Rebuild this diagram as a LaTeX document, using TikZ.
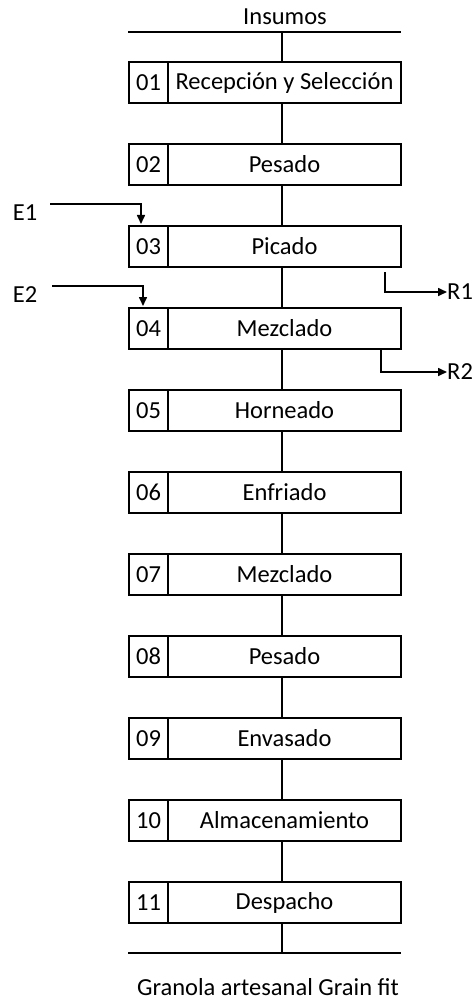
\documentclass[tikz,border=0pt]{standalone}
\usepackage{fontspec}
\setmainfont{Carlito}
\usetikzlibrary{arrows.meta,calc}
\begin{document}
\begin{tikzpicture}[x=1pt,y=-1pt,
  txt/.style={font=\fontsize{24.5}{28}\selectfont, text=black, inner sep=0pt},
  maincell/.style={draw, line width=1.6pt, minimum width=233pt, minimum height=41pt, inner sep=0pt, font=\fontsize{24.5}{28}\selectfont},
  numcell/.style={draw, line width=1.6pt, minimum width=39pt, minimum height=41pt, inner sep=0pt, font=\fontsize{24.5}{28}\selectfont},
  conn/.style={line width=1.6pt},
  arr/.style={line width=1.6pt, -{Triangle[length=9pt,width=8pt]}}]
\useasboundingbox (0,0) rectangle (473,1000);
\fill[white] (0,0) rectangle (473,1000);
\node[txt] (ins) at (285,17) {Insumos};
\coordinate (tl) at (128,32);
\coordinate (tr) at (401,32);
\draw[conn] (tl) -- (tr);
\foreach \i/\lab in {1/Recepción y Selección,2/Pesado,3/Picado,4/Mezclado,5/Horneado,6/Enfriado,7/Mezclado,8/Pesado,9/Envasado,10/Almacenamiento,11/Despacho}{
  \pgfmathsetmacro{\yy}{82.5+(\i-1)*82}
  \node[maincell] (m\i) at (284.5,\yy) {\lab};
  \node[numcell] (n\i) at (148.5,\yy) {\ifnum\i<10 0\fi\i};
}
\draw[conn] (282,32) coordinate (tc) -- (tc |- m1.north);
\foreach \i [evaluate=\i as \j using int(\i+1)] in {1,...,10}{
  \draw[conn] (m\i.south -| tc) -- (m\j.north -| tc);
}
\coordinate (bl) at (128,953);
\coordinate (br) at (401,953);
\draw[conn] (bl) -- (br);
\draw[conn] (m11.south -| tc) -- (tc |- bl);
\node[txt] (out) at (268,987) {Granola artesanal Grain fit};
% inputs
\node[txt] (e1) at (25,213) {E1};
\node[txt] (e2) at (25,295) {E2};
\coordinate (e1s) at (50,204);
\coordinate (e1t) at (141,224);
\draw[arr] (e1s) -| (e1t);
\coordinate (e2s) at (52,286);
\coordinate (e2t) at (143,306);
\draw[arr] (e2s) -| (e2t);
% outputs
\node[txt,anchor=west] (r1) at (447,292) {R1};
\node[txt,anchor=west] (r2) at (447,372) {R2};
\coordinate (r1s) at (385,272);
\coordinate (r2s) at (381,350);
\draw[arr] (r1s) |- (r1.west);
\draw[arr] (r2s) |- (r2.west);
\end{tikzpicture}
\end{document}
